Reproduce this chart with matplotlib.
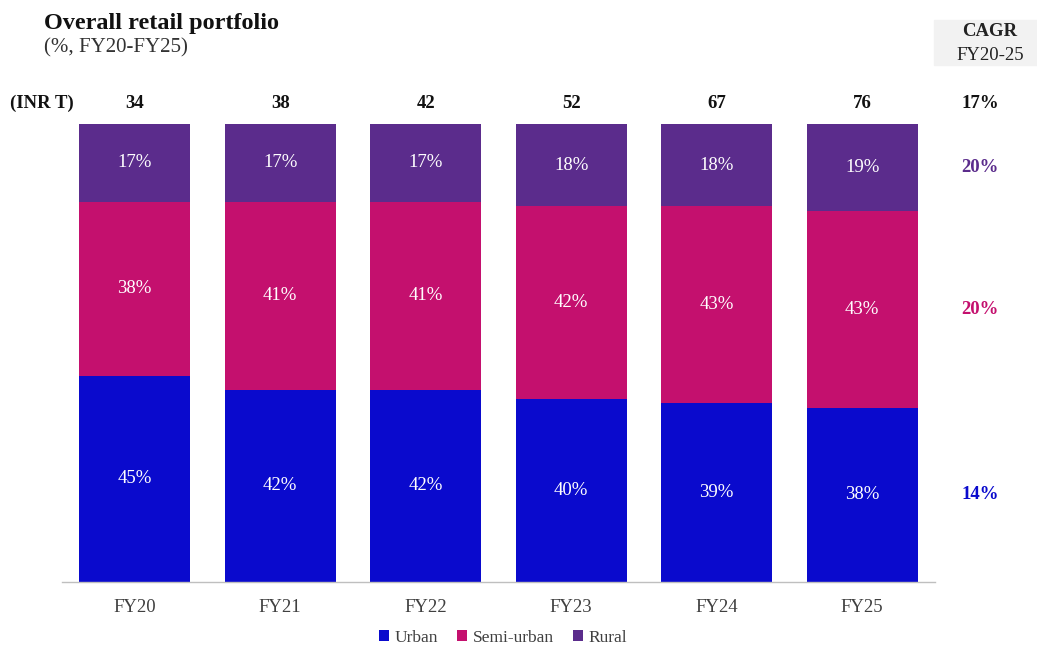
import matplotlib
matplotlib.use("Agg")
import matplotlib.pyplot as plt
import numpy as np
from matplotlib.patches import Rectangle

plt.rcParams['font.family'] = ['Liberation Serif', 'DejaVu Serif']

years = ["FY20", "FY21", "FY22", "FY23", "FY24", "FY25"]
totals = [34, 38, 42, 52, 67, 76]
urban = [45, 42, 42, 40, 39, 38]
semi_urban = [38, 41, 41, 42, 43, 43]
rural = [17, 17, 17, 18, 18, 19]
cagr_total = "17%"
cagr = {"Rural": "20%", "Semi-urban": "20%", "Urban": "14%"}

C_URBAN = "#0A0ACD"
C_SEMI = "#C4106E"
C_RURAL = "#5B2C8C"

W, H = 1037, 648
fig = plt.figure(figsize=(W / 100, H / 100), dpi=100)
ax = fig.add_axes([62 / W, (H - 582) / H, (935 - 62) / W, (582 - 124) / H])

x = np.arange(len(years))
bw = 0.765
u = np.array(urban)
s = np.array(semi_urban)
r = np.array(rural)
ax.bar(x, u, bw, color=C_URBAN, label="Urban")
ax.bar(x, s, bw, bottom=u, color=C_SEMI, label="Semi-urban")
ax.bar(x, r, bw, bottom=u + s, color=C_RURAL, label="Rural")

FS = 13.5
for i in range(len(years)):
    for bot, val in [(0, u[i]), (u[i], s[i]), (u[i] + s[i], r[i])]:
        ax.text(x[i], bot + val / 2, f"{val}%", ha="center", va="center",
                color="white", fontsize=FS)
    ax.text(x[i], 104.5, str(totals[i]), ha="center", va="center",
            fontsize=FS, fontweight="bold", color="#111111")

ax.text(-0.64, 104.5, "(INR T)", ha="center", va="center", fontsize=FS,
        fontweight="bold", color="#111111", clip_on=False)

ax.set_xlim(-0.5, 5.5)
ax.set_ylim(0, 100)
ax.set_xticks(x)
ax.set_xticklabels(years, fontsize=FS, color="#404040")
ax.tick_params(axis="x", length=0, pad=12)
ax.set_yticks([])
for sp in ["top", "right", "left"]:
    ax.spines[sp].set_visible(False)
ax.spines["bottom"].set_color("#BFBFBF")
ax.spines["bottom"].set_linewidth(1)

# CAGR column, aligned to the FY25 segments
cx = 5.81
last = len(years) - 1
ax.text(cx, 104.5, cagr_total, ha="center", va="center", fontsize=FS,
        fontweight="bold", color="#111111", clip_on=False)
ax.text(cx, u[last] + s[last] + r[last] / 2, cagr["Rural"], ha="center", va="center",
        fontsize=FS, fontweight="bold", color=C_RURAL, clip_on=False)
ax.text(cx, u[last] + s[last] / 2, cagr["Semi-urban"], ha="center", va="center",
        fontsize=FS, fontweight="bold", color=C_SEMI, clip_on=False)
ax.text(cx, u[last] / 2, cagr["Urban"], ha="center", va="center",
        fontsize=FS, fontweight="bold", color=C_URBAN, clip_on=False)

fig.patches.append(Rectangle((934 / W, (H - 65) / H), 103 / W, 45 / H,
                             transform=fig.transFigure, color="#F2F2F2", zorder=0))
fig.text(990 / W, (H - 32) / H, "CAGR", ha="center", va="center", fontsize=FS,
         fontweight="bold", color="#222222")
fig.text(990 / W, (H - 55) / H, "FY20-25", ha="center", va="center", fontsize=FS,
         color="#222222")

fig.text(44 / W, (H - 23) / H, "Overall retail portfolio", ha="left", va="center",
         fontsize=17.5, fontweight="bold", color="#111111")
fig.text(44 / W, (H - 48) / H, "(%, FY20-FY25)", ha="left", va="center",
         fontsize=15, color="#333333")

leg = fig.legend(loc="center", bbox_to_anchor=(0.485, (H - 638) / H), ncol=3,
                 frameon=False, fontsize=12.5, handlelength=0.6, handleheight=0.6,
                 handletextpad=0.3, columnspacing=1.1)
for t in leg.get_texts():
    t.set_color("#404040")

fig.savefig("out.png", dpi=100)
